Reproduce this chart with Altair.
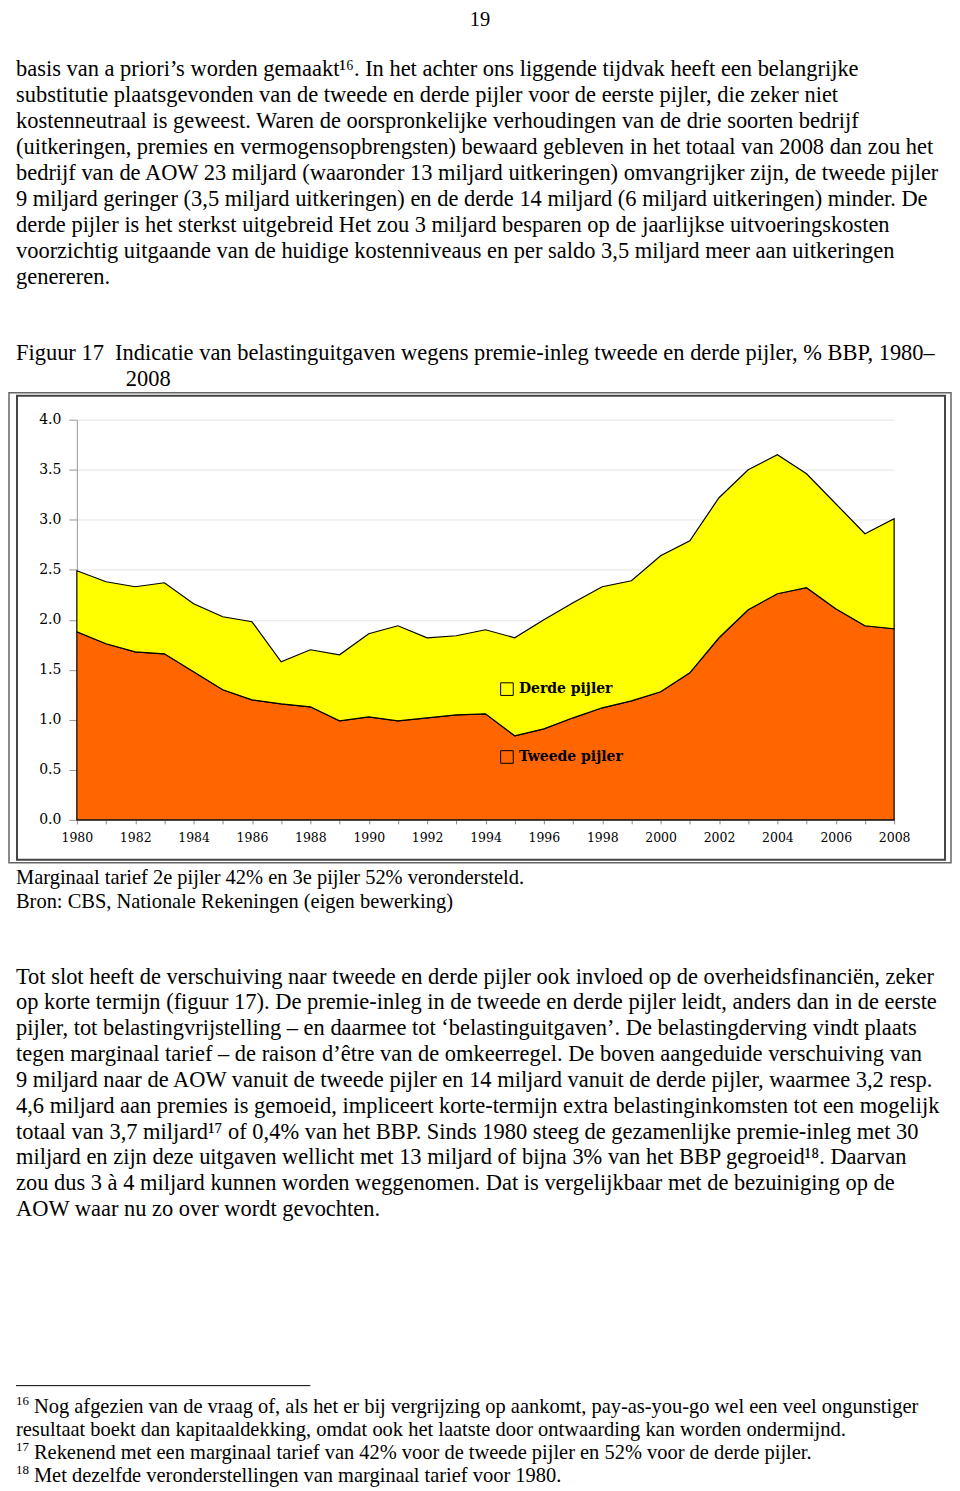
import altair as alt
import pandas as pd

SERIF = "Liberation Serif"
CHART_FONT = "DejaVu Serif"

# ---------------- data ----------------
years = list(range(1980, 2009))
tweede = [1.88, 1.76, 1.68, 1.66, 1.48, 1.30, 1.20, 1.16, 1.13, 0.99,
          1.03, 0.99, 1.02, 1.05, 1.06, 0.84, 0.91, 1.02, 1.12, 1.19,
          1.28, 1.47, 1.82, 2.10, 2.26, 2.32, 2.11, 1.94, 1.91]
derde = [0.61, 0.62, 0.65, 0.71, 0.68, 0.73, 0.78, 0.42, 0.57, 0.66,
         0.83, 0.95, 0.80, 0.79, 0.84, 0.98, 1.09, 1.15, 1.21, 1.20,
         1.36, 1.32, 1.40, 1.40, 1.39, 1.14, 1.05, 0.92, 1.10]
series_names = ["Derde pijler", "Tweede pijler"]
series_colors = ["#FFFF00", "#FF6600"]
y_ticks = [0.0, 0.5, 1.0, 1.5, 2.0, 2.5, 3.0, 3.5, 4.0]

page_number = ["19"]
para1 = [
    "basis van a priori\u2019s worden gemaakt\u00b9\u2076. In het achter ons liggende tijdvak heeft een belangrijke",
    "substitutie plaatsgevonden van de tweede en derde pijler voor de eerste pijler, die zeker niet",
    "kostenneutraal is geweest. Waren de oorspronkelijke verhoudingen van de drie soorten bedrijf",
    "(uitkeringen, premies en vermogensopbrengsten) bewaard gebleven in het totaal van 2008 dan zou het",
    "bedrijf van de AOW 23 miljard (waaronder 13 miljard uitkeringen) omvangrijker zijn, de tweede pijler",
    "9 miljard geringer (3,5 miljard uitkeringen) en de derde 14 miljard (6 miljard uitkeringen) minder. De",
    "derde pijler is het sterkst uitgebreid Het zou 3 miljard besparen op de jaarlijkse uitvoeringskosten",
    "voorzichtig uitgaande van de huidige kostenniveaus en per saldo 3,5 miljard meer aan uitkeringen",
    "genereren.",
]
title_line1 = ["Figuur 17\u00a0\u00a0Indicatie van belastinguitgaven wegens premie-inleg tweede en derde pijler, % BBP, 1980\u2013"]
title_line2 = ["2008"]
notes = [
    "Marginaal tarief 2e pijler 42% en 3e pijler 52% verondersteld.",
    "Bron: CBS, Nationale Rekeningen (eigen bewerking)",
]
para2 = [
    "Tot slot heeft de verschuiving naar tweede en derde pijler ook invloed op de overheidsfinanci\u00ebn, zeker",
    "op korte termijn (figuur 17). De premie-inleg in de tweede en derde pijler leidt, anders dan in de eerste",
    "pijler, tot belastingvrijstelling \u2013 en daarmee tot \u2018belastinguitgaven\u2019. De belastingderving vindt plaats",
    "tegen marginaal tarief \u2013 de raison d\u2019\u00eatre van de omkeerregel. De boven aangeduide verschuiving van",
    "9 miljard naar de AOW vanuit de tweede pijler en 14 miljard vanuit de derde pijler, waarmee 3,2 resp.",
    "4,6 miljard aan premies is gemoeid, impliceert korte-termijn extra belastinginkomsten tot een mogelijk",
    "totaal van 3,7 miljard\u00b9\u2077 of 0,4% van het BBP. Sinds 1980 steeg de gezamenlijke premie-inleg met 30",
    "miljard en zijn deze uitgaven wellicht met 13 miljard of bijna 3% van het BBP gegroeid\u00b9\u2078. Daarvan",
    "zou dus 3 \u00e0 4 miljard kunnen worden weggenomen. Dat is vergelijkbaar met de bezuiniging op de",
    "AOW waar nu zo over wordt gevochten.",
]
fn_numbers = ["16", "17", "18"]
fn_number_rows = [0, 2, 3]
fn_main = [
    "Nog afgezien van de vraag of, als het er bij vergrijzing op aankomt, pay-as-you-go wel een veel ongunstiger",
    "Rekenend met een marginaal tarief van 42% voor de tweede pijler en 52% voor de derde pijler.",
    "Met dezelfde veronderstellingen van marginaal tarief voor 1980.",
]
fn_cont = ["resultaat boekt dan kapitaaldekking, omdat ook het laatste door ontwaarding kan worden ondermijnd."]
fn_cont_rows = [1]


# ---------------- helpers ----------------
def block(lines, y0, step, x, size, rows=None, weight="normal", align="left",
          baseline="middle", font=SERIF, dy=0):
    if rows is None:
        rows = list(range(len(lines)))
    df = pd.DataFrame({"row": rows, "t": lines})
    return alt.Chart(df).mark_text(
        align=align, baseline=baseline, font=font, fontSize=size,
        fontWeight=weight, color="#000000", dy=dy
    ).encode(
        x=alt.value(x),
        y=alt.Y("row:Q", axis=None,
                scale=alt.Scale(domain=[0, 1], range=[y0, y0 + step], nice=False, zero=False)),
        text=alt.Text("t:N"),
    )


W = 944
BODY = 22.5

# ---------------- top text ----------------
top = alt.layer(
    block(page_number, 0, 26, 472, 20.5, align="center", baseline="top"),
    block(para1, 60, 26, 7, BODY),
    block(title_line1, 344, 26, 7, BODY),
    block(title_line2, 370, 26, 117, BODY),
).resolve_scale(y="independent").properties(width=W, height=383)

# ---------------- chart ----------------
rows = []
for i, yr in enumerate(years):
    rows.append({"year": yr, "series": series_names[1], "value": tweede[i], "ord": 0})
    rows.append({"year": yr, "series": series_names[0], "value": derde[i], "ord": 1})
df = pd.DataFrame(rows)

areas = alt.Chart(df).mark_area(stroke="#000000", strokeWidth=1.2, opacity=1).encode(
    x=alt.X("year:Q",
            scale=alt.Scale(domain=[1980, 2008], range=[68, 887], nice=False, zero=False),
            axis=alt.Axis(values=years, format="d",
                          labelExpr="datum.value % 2 == 0 ? datum.label : ''",
                          title=None, grid=False, offset=-43, tickSize=4,
                          tickColor="#888888", domainColor="#888888",
                          labelFont=CHART_FONT, labelFontSize=12.5, labelColor="#000000",
                          labelPadding=8, labelFlush=False, labelOverlap=False)),
    y=alt.Y("value:Q", stack="zero",
            scale=alt.Scale(domain=[0, 4], range=[428, 27], nice=False),
            axis=alt.Axis(values=y_ticks, format=".1f", title=None, offset=-68,
                          tickSize=8, tickColor="#999999", domainColor="#999999",
                          grid=True, gridColor="#e4e4e4",
                          labelFont=CHART_FONT, labelFontSize=14, labelColor="#000000",
                          labelPadding=8)),
    color=alt.Color("series:N",
                    scale=alt.Scale(domain=series_names, range=series_colors),
                    legend=alt.Legend(title=None, orient="none", legendX=492, legendY=674,
                                      direction="vertical", symbolType="square",
                                      symbolSize=160, symbolStrokeColor="#000000",
                                      symbolStrokeWidth=1, labelFont=CHART_FONT,
                                      labelFontWeight="bold", labelFontSize=14,
                                      labelColor="#000000", rowPadding=50, labelOffset=5)),
    order=alt.Order("ord:Q"),
)

frame = alt.Chart(pd.DataFrame({"a": [0]})).mark_rect(
    fillOpacity=0, stroke="#444444", strokeWidth=2
).encode(x=alt.value(8), x2=alt.value(938), y=alt.value(3), y2=alt.value(468))

chart_panel = alt.layer(areas, frame).properties(
    width=W, height=471,
    view=alt.ViewBackground(stroke="#666666", strokeWidth=1.5),
)

# ---------------- bottom text ----------------
rule = alt.Chart(pd.DataFrame({"a": [0]})).mark_rule(color="#000000", strokeWidth=1).encode(
    x=alt.value(7), x2=alt.value(302), y=alt.value(523)
)

bottom = alt.layer(
    block(notes, 14, 24, 7, 20.5),
    block(para2, 113, 25.9, 7, BODY),
    rule,
    block(fn_numbers, 544, 23.3, 7, 13, rows=fn_number_rows, dy=-6),
    block(fn_main, 544, 23.3, 25, 20.5, rows=fn_number_rows),
    block(fn_cont, 544, 23.3, 7, 20.5, rows=fn_cont_rows),
).resolve_scale(y="independent").properties(width=W, height=616)

chart = alt.vconcat(top, chart_panel, bottom, spacing=0).properties(
    padding=0
).configure_view(strokeWidth=0)

chart.save("out.html", embed_options={"renderer": "svg", "actions": False})
